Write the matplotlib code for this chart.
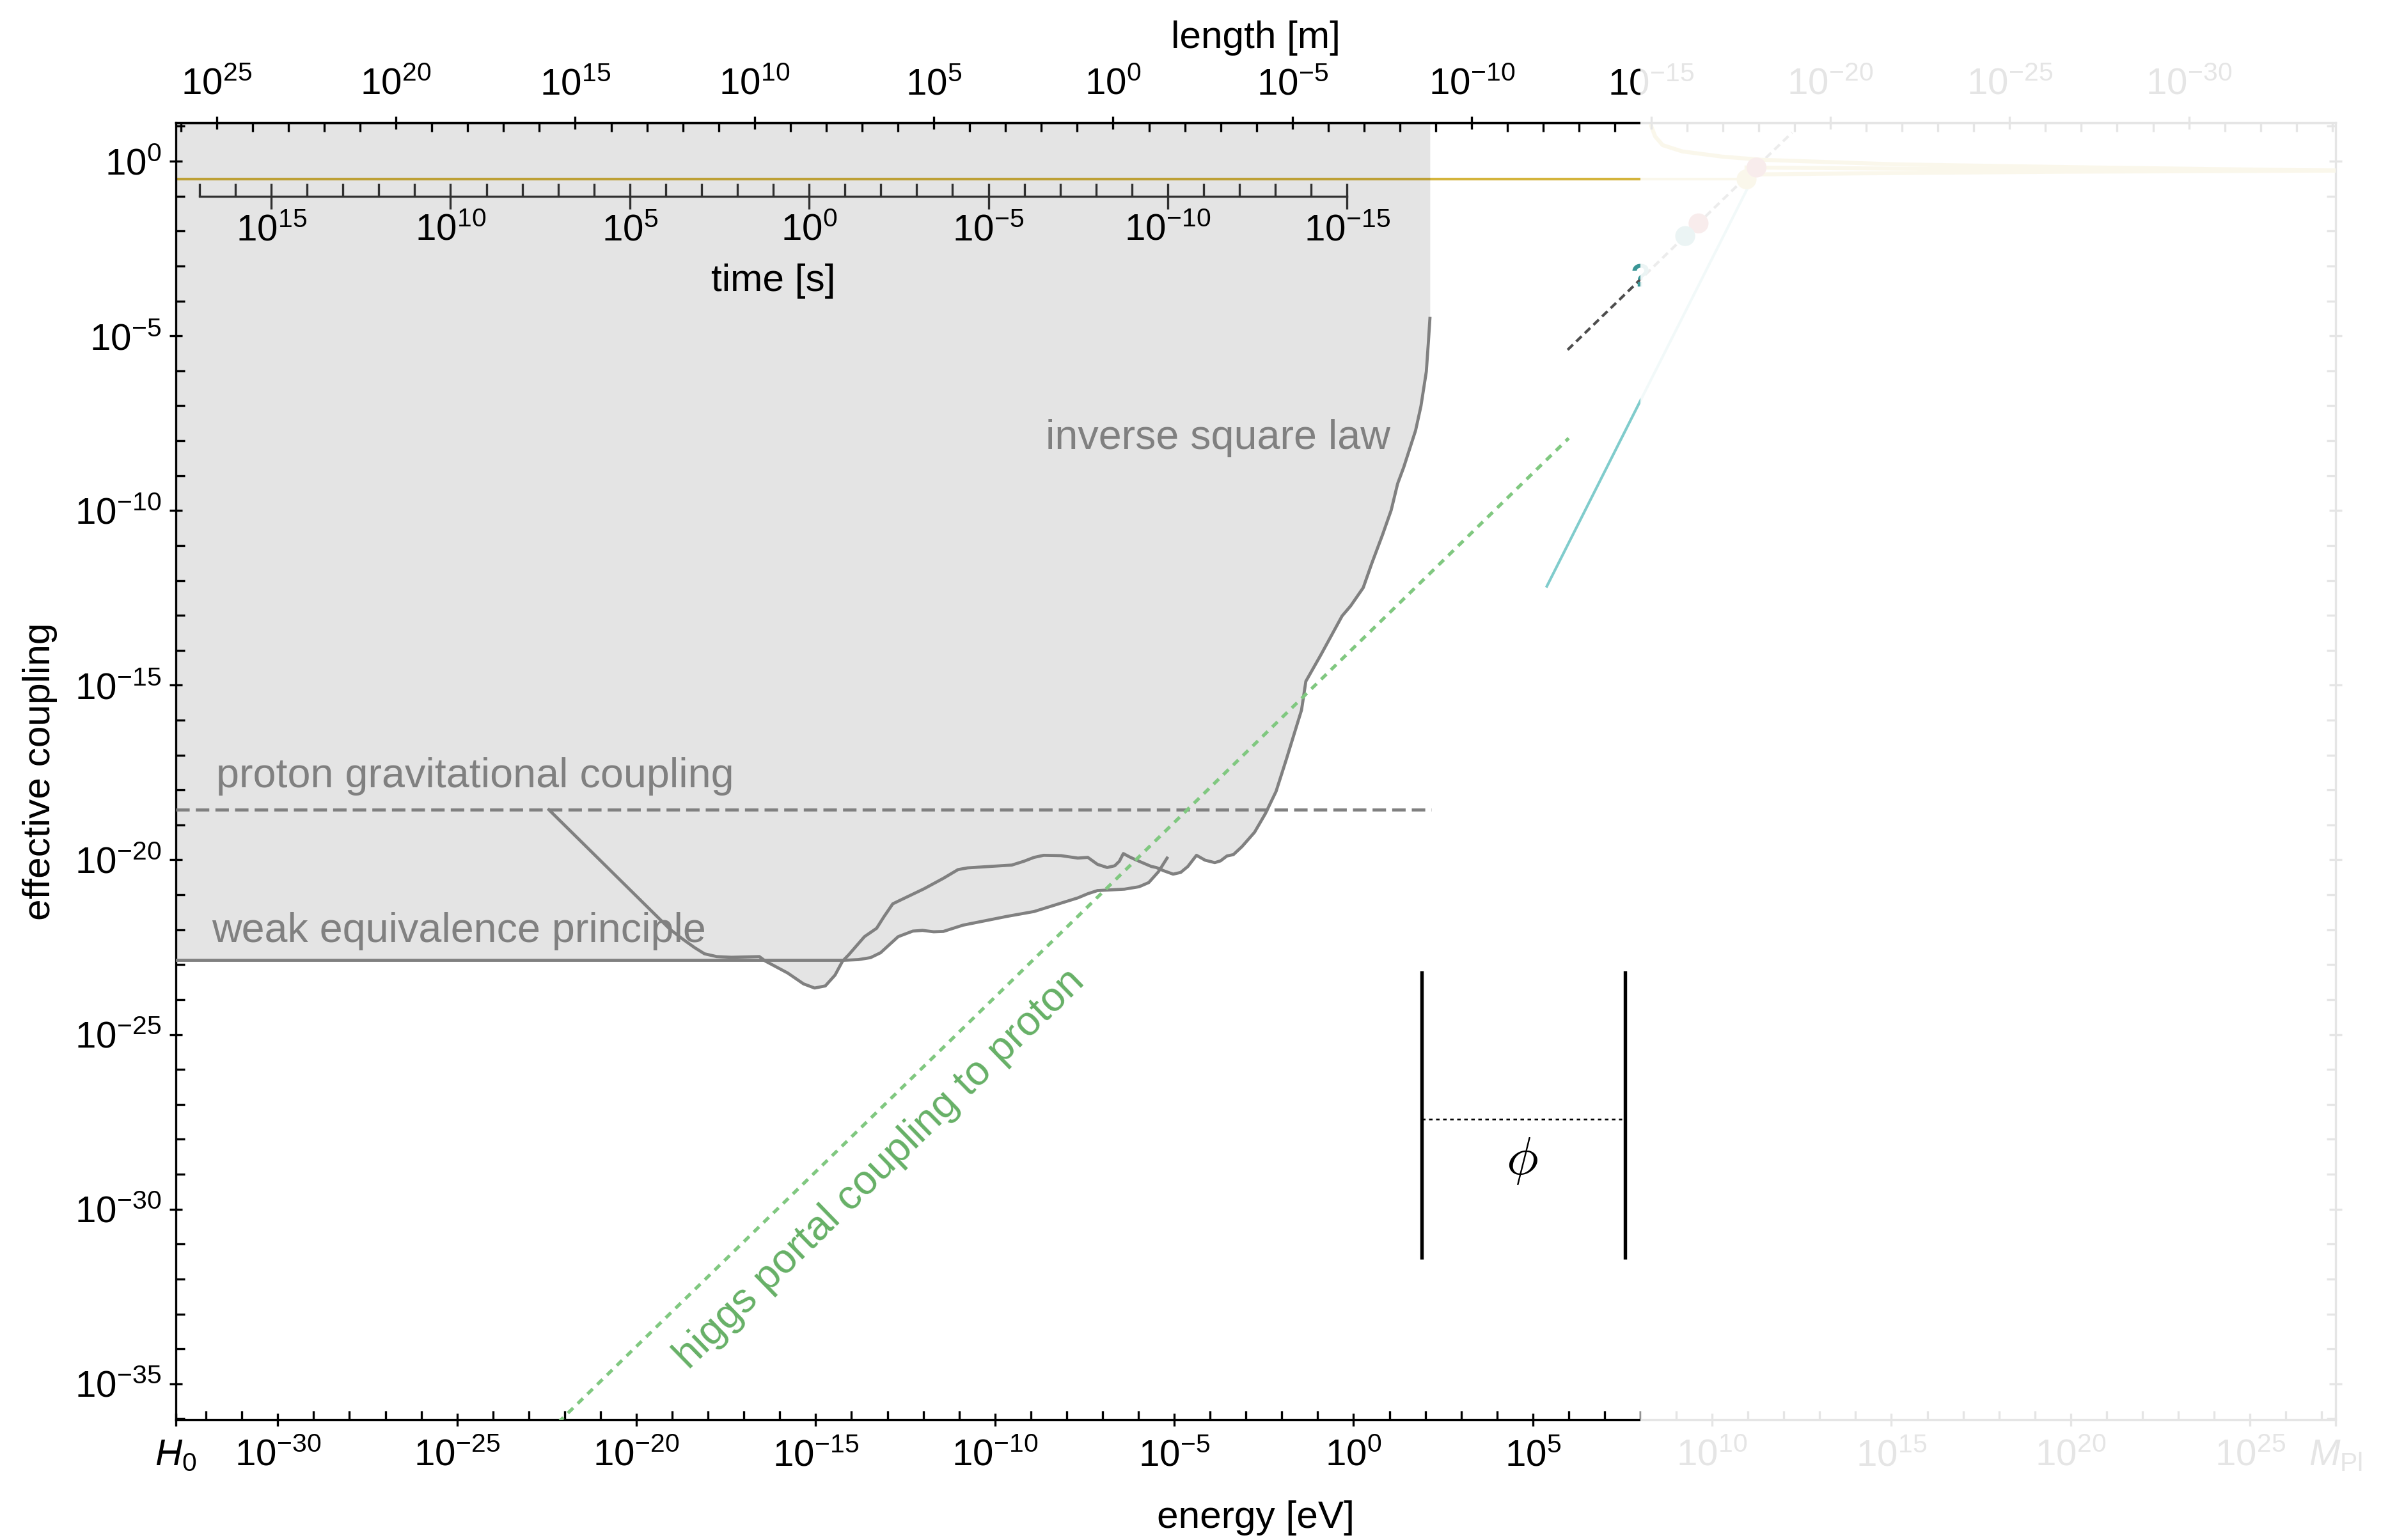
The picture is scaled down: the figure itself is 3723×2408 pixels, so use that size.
import math
import numpy as np
import matplotlib
matplotlib.use("Agg")
import matplotlib.pyplot as plt
from matplotlib import font_manager
from matplotlib.patches import Rectangle
from matplotlib.ticker import FixedLocator, FixedFormatter, NullFormatter
from matplotlib.transforms import blended_transform_factory

# ---------------------------------------------------------------- scales (eV)
H0_EV = 1.44e-33          # Hubble scale
MPL_EV = 2.435e27         # reduced Planck mass
HBARC_EV_M = 1.973e-7     # hbar*c  [eV m]
HBAR_EV_S = 6.582e-16     # hbar    [eV s]
FADE_E = 1e8              # everything above this energy is greyed out

# coupling axis range
G_LOW = 10 ** -36.03
G_HIGH = 10 ** 1.10

# ---------------------------------------------------------------- data
# proton gravitational coupling  m_p / (sqrt(2) M_Pl)
proton_grav_E = [H0_EV, 10 ** 2.17]
proton_grav_g = [10 ** -18.565, 10 ** -18.565]

# electromagnetic coupling e, up to M_Z
em_E = [H0_EV, 9.12e10]
em_g = [0.303, 0.303]

# fifth-force bound: inverse square law / torsion balance (log10 E, log10 g)
isl_logE = [-22.44, -19.06, -18.72, -18.38, -18.10, -17.76, -17.35, -16.57, -16.40,
            -15.78, -15.34, -15.03, -14.73, -14.46, -14.25, -14.08, -13.64, -13.30,
            -13.09, -12.85, -12.67, -11.98, -11.44, -11.03, -10.76, -9.53, -9.19,
            -8.91, -8.64, -8.16, -7.69, -7.41, -7.14, -6.87, -6.66, -6.53, -6.42,
            -6.24, -6.05, -5.64, -5.50, -5.30, -5.03, -4.82, -4.62, -4.38, -4.14,
            -3.87, -3.71, -3.53, -3.35, -3.11, -2.76, -2.46, -2.16, -1.87, -1.45,
            -1.33, -0.91, -0.32, -0.08, 0.27, 0.51, 0.81, 1.05, 1.23, 1.40, 1.73,
            1.88, 2.03, 2.09, 2.13]
isl_logg = [-18.565, -21.99, -22.26, -22.51, -22.69, -22.77, -22.79, -22.77, -22.90,
            -23.24, -23.55, -23.67, -23.61, -23.30, -22.90, -22.72, -22.20, -21.96,
            -21.62, -21.26, -21.17, -20.83, -20.53, -20.28, -20.23, -20.15, -20.04,
            -19.93, -19.87, -19.88, -19.95, -19.93, -20.13, -20.22, -20.17, -20.04,
            -19.82, -19.92, -20.01, -20.19, -20.22, -20.31, -20.41, -20.36, -20.19,
            -19.87, -20.01, -20.08, -20.03, -19.89, -19.85, -19.62, -19.21, -18.68,
            -18.04, -17.11, -15.71, -14.89, -14.13, -13.02, -12.73, -12.21, -11.51,
            -10.69, -9.99, -9.23, -8.76, -7.71, -7.01, -6.02, -5.14, -4.50]

# weak equivalence principle bound (log10 E, log10 g)
wep_logE = [-32.84, -14.22, -13.81, -13.47, -13.19, -12.70, -12.29, -12.02, -11.71,
            -11.44, -10.89, -9.67, -8.91, -7.69, -7.41, -7.14, -6.39, -5.98, -5.71,
            -5.44, -5.20]
wep_logg = [-22.876, -22.876, -22.857, -22.80, -22.66, -22.20, -22.04, -22.02, -22.06,
            -22.05, -21.87, -21.62, -21.48, -21.09, -20.97, -20.88, -20.84, -20.77,
            -20.65, -20.34, -19.95]

# higgs portal coupling to the proton
higgs_E = [1e-23, 1e6]
higgs_g = [10 ** -36.93, 10 ** -7.93]

# Fermi theory: sqrt(G_F) E  and  G_F E^2
fermi_E = [10 ** 5.97, 10 ** 12.23]
fermi_g = [10 ** -5.40, 10 ** 0.82]
fermi2_E = [10 ** 5.39, 10 ** 11.27]
fermi2_g = [10 ** -12.17, 10 ** -0.20]

# running gauge couplings above the electroweak scale (log10 E, log10 g)
g3_logE = [8.27, 8.30, 8.41, 8.62, 9.17, 10.29, 11.40, 15.15, 20.71, 27.39]
g3_logg = [1.30, 1.01, 0.71, 0.46, 0.28, 0.13, 0.04, -0.09, -0.18, -0.27]
g2_logE = [10.96, 15.0, 20.0, 27.39]
g2_logg = [-0.18, -0.21, -0.24, -0.27]
g1_logE = [10.96, 15.0, 20.0, 27.39]
g1_logg = [-0.38, -0.34, -0.30, -0.27]

# Z, top, bottom, tau
particle_E = [9.12e10, 1.73e11, 4.18e9, 1.777e9]
particle_g = [0.303, 0.66, 0.0166, 0.0072]

# tick exponents
x_major_exp = [-30, -25, -20, -15, -10, -5, 0, 5, 10, 15, 20, 25]
x_minor_exp = list(range(-32, 28))
y_major_exp = [0, -5, -10, -15, -20, -25, -30, -35]
y_minor_exp = list(range(-36, 2))
len_major_exp = [25, 20, 15, 10, 5, 0, -5, -10, -15, -20, -25, -30]
len_minor_exp = list(range(26, -35, -1))
time_major_exp = [15, 10, 5, 0, -5, -10, -15]
time_minor_exp = list(range(17, -16, -1))

# ---------------------------------------------------------------- style
GRAY = "#808080"
GOLD = "#d4b43c"
GREEN = "#80c880"
GREEN_TXT = "#66b066"
CYAN = "#80cccc"
DARK = "#4d4d4d"
RED = "#c04848"
TEAL = "#3a9696"

names = {f.name for f in font_manager.fontManager.ttflist}
SANS = "Liberation Sans" if "Liberation Sans" in names else "DejaVu Sans"
NARROW = "Liberation Sans Narrow" if "Liberation Sans Narrow" in names else SANS
plt.rcParams["font.family"] = [SANS, "DejaVu Sans"]
plt.rcParams["mathtext.fontset"] = "custom"
plt.rcParams["mathtext.rm"] = NARROW
plt.rcParams["mathtext.it"] = NARROW + ":italic"
plt.rcParams["mathtext.bf"] = NARROW + ":bold"
plt.rcParams["mathtext.sf"] = NARROW


def pow10(e):
    return rf"$10^{{{e}}}$"


W, H = 3723, 2408
DPI = 300
fig = plt.figure(figsize=(W / DPI, H / DPI), dpi=DPI)
ax_left, ax_right, ax_top_px, ax_bot_px = 275, 3652, 192, 2220
ax = fig.add_axes([ax_left / W, (H - ax_bot_px) / H,
                   (ax_right - ax_left) / W, (ax_bot_px - ax_top_px) / H])
ax.set_xscale("log")
ax.set_yscale("log")
ax.set_xlim(H0_EV, MPL_EV)
ax.set_ylim(G_LOW, G_HIGH)

# ---------------------------------------------------------------- excluded region
grid = np.linspace(wep_logE[0], isl_logE[-1], 4000)
a = np.interp(grid, isl_logE, isl_logg, left=np.inf, right=np.inf)
b = np.interp(grid, wep_logE, wep_logg, left=np.inf, right=np.inf)
lower = np.minimum(a, b)
ax.plot(em_E, em_g, color=GOLD, lw=1.0, zorder=1)
ax.fill_between(10 ** grid, 10 ** lower, G_HIGH, color="black", alpha=0.105,
                lw=0, zorder=2)

# ---------------------------------------------------------------- curves
ax.plot(proton_grav_E, proton_grav_g, color=GRAY, lw=1.15, dashes=(4.4, 2.0), zorder=3)
ax.plot(10 ** np.array(isl_logE), 10 ** np.array(isl_logg), color=GRAY, lw=1.15,
        zorder=3, solid_joinstyle="round")
ax.plot(10 ** np.array(wep_logE), 10 ** np.array(wep_logg), color=GRAY, lw=1.15,
        zorder=3, solid_joinstyle="round")
ax.plot(higgs_E, higgs_g, color=GREEN, lw=1.25, dashes=(2.2, 1.9), zorder=3)
ax.plot(fermi_E, fermi_g, color=DARK, lw=1.0, dashes=(2.8, 1.7), zorder=3)
ax.plot(fermi2_E, fermi2_g, color=CYAN, lw=1.0, zorder=3)
for le, lg in ((g3_logE, g3_logg), (g2_logE, g2_logg), (g1_logE, g1_logg)):
    ax.plot(10 ** np.array(le), 10 ** np.array(lg), color=GOLD, lw=1.5, zorder=3)
ax.scatter(particle_E, particle_g, s=7.5 ** 2, c=[GOLD, RED, RED, TEAL],
           edgecolors="none", zorder=4)
ax.text(1e8, 10 ** -3.35, "?", color=TEAL, fontsize=12, fontweight="bold",
        ha="center", va="center", zorder=5)

# ---------------------------------------------------------------- labels in the plot
LBL = 15.5
ax.text(10 ** -31.71, 10 ** -17.93, "proton gravitational coupling", color=GRAY,
        fontsize=LBL, ha="left", va="baseline", zorder=4)
ax.text(10 ** -31.85, 10 ** -22.35, "weak equivalence principle", color=GRAY,
        fontsize=LBL, ha="left", va="baseline", zorder=4)
ax.text(10 ** 1.03, 10 ** -8.24, "inverse square law", color=GRAY,
        fontsize=LBL, ha="right", va="baseline", zorder=4)
p0 = ax.transData.transform((higgs_E[0], higgs_g[0]))
p1 = ax.transData.transform((higgs_E[1], higgs_g[1]))
angle = math.degrees(math.atan2(p1[1] - p0[1], p1[0] - p0[0]))
ax.text(10 ** -13.21, 10 ** -28.85, "higgs portal coupling to proton", color=GREEN_TXT,
        fontsize=LBL, ha="center", va="center", rotation=angle,
        rotation_mode="anchor", zorder=4)

# exchange diagram: two sources and the scalar line between them
BAR_X = (0.5768, 0.6710)
BAR_Y = (0.1238, 0.3462)
PROP_Y = 0.2318
for bx in BAR_X:
    ax.plot([bx, bx], BAR_Y, transform=ax.transAxes, color="black", lw=1.3,
            solid_capstyle="butt", zorder=5)
ax.plot([BAR_X[0], BAR_X[1] - 0.0015], [PROP_Y, PROP_Y], transform=ax.transAxes,
        color="black", lw=0.6, dashes=(2.2, 2.2), zorder=5)
ax.text(0.6233, 0.1997, r"$\phi$", transform=ax.transAxes, fontsize=20,
        math_fontfamily="cm", ha="center", va="center", zorder=5)

# ---------------------------------------------------------------- main axes ticks
SPINE_W = 0.8
for s in ax.spines.values():
    s.set_linewidth(SPINE_W)
x_major = [H0_EV] + [10.0 ** e for e in x_major_exp] + [MPL_EV]
x_labels = [r"$H_0$"] + [pow10(e) for e in x_major_exp] + [r"$M_{\mathrm{Pl}}$"]
ax.xaxis.set_major_locator(FixedLocator(x_major))
ax.xaxis.set_major_formatter(FixedFormatter(x_labels))
ax.xaxis.set_minor_locator(FixedLocator([10.0 ** e for e in x_minor_exp]))
ax.xaxis.set_minor_formatter(NullFormatter())
ax.yaxis.set_major_locator(FixedLocator([10.0 ** e for e in y_major_exp]))
ax.yaxis.set_major_formatter(FixedFormatter([pow10(e) for e in y_major_exp]))
ax.yaxis.set_minor_locator(FixedLocator([10.0 ** e for e in y_minor_exp]))
ax.yaxis.set_minor_formatter(NullFormatter())
ax.tick_params(which="both", top=False, right=True, labelright=False, width=SPINE_W)
ax.tick_params(which="major", direction="inout", length=5.0, labelsize=14)
ax.tick_params(which="minor", direction="in", length=3.4)
ax.tick_params(axis="x", which="major", pad=4.5)
ax.tick_params(axis="y", which="major", pad=3.0)

ax.set_xlabel("energy [eV]", fontsize=14.5)
ax.xaxis.set_label_coords(0.5, (H - 2346) / H,
                          transform=blended_transform_factory(ax.transAxes, fig.transFigure))
ax.set_ylabel("effective coupling", fontsize=14.5)
ax.yaxis.set_label_coords(90 / W, 0.5,
                          transform=blended_transform_factory(fig.transFigure, ax.transAxes))

# ---------------------------------------------------------------- length axis (top)
ax_len = ax.twiny()
ax_len.set_xscale("log")
ax_len.set_xlim(HBARC_EV_M / H0_EV, HBARC_EV_M / MPL_EV)
for side in ("left", "right", "bottom"):
    ax_len.spines[side].set_visible(False)
ax_len.spines["top"].set_linewidth(SPINE_W)
ax_len.xaxis.set_major_locator(FixedLocator([10.0 ** e for e in len_major_exp]))
ax_len.xaxis.set_major_formatter(FixedFormatter([pow10(e) for e in len_major_exp]))
ax_len.xaxis.set_minor_locator(FixedLocator([10.0 ** e for e in len_minor_exp]))
ax_len.xaxis.set_minor_formatter(NullFormatter())
ax_len.tick_params(which="both", width=SPINE_W)
ax_len.tick_params(which="major", direction="inout", length=5.0, labelsize=14, pad=5.3)
ax_len.tick_params(which="minor", direction="in", length=3.4)
ax_len.set_xlabel("length [m]", fontsize=14.5)
ax_len.xaxis.set_label_coords(0.5, (H - 75) / H,
                              transform=blended_transform_factory(ax_len.transAxes,
                                                                  fig.transFigure))

# ---------------------------------------------------------------- time axis (inset)
TIME_Y = 307
ax_t = fig.add_axes([ax_left / W, (H - TIME_Y) / H, (ax_right - ax_left) / W, 0.0005],
                    facecolor="none")
ax_t.set_xscale("log")
ax_t.set_xlim(HBAR_EV_S / H0_EV, HBAR_EV_S / MPL_EV)
ax_t.set_yticks([])
for side in ("left", "right", "top"):
    ax_t.spines[side].set_visible(False)
TCOL = "#303030"
ax_t.spines["bottom"].set_bounds(10.0 ** time_minor_exp[0], 10.0 ** time_minor_exp[-1])
ax_t.spines["bottom"].set_color(TCOL)
ax_t.spines["bottom"].set_linewidth(SPINE_W)
ax_t.xaxis.set_major_locator(FixedLocator([10.0 ** e for e in time_major_exp]))
ax_t.xaxis.set_major_formatter(FixedFormatter([pow10(e) for e in time_major_exp]))
ax_t.xaxis.set_minor_locator(FixedLocator([10.0 ** e for e in time_minor_exp]))
ax_t.xaxis.set_minor_formatter(NullFormatter())
ax_t.tick_params(which="both", width=SPINE_W, color=TCOL)
ax_t.tick_params(which="major", direction="inout", length=9.6, labelsize=14, pad=1.5)
ax_t.tick_params(which="minor", direction="in", length=4.8)
ax_t.set_xlabel("time [s]", fontsize=14.5)
ax_t.xaxis.set_label_coords(10.0, (H - 412) / H,
                            transform=blended_transform_factory(ax_t.transData,
                                                                fig.transFigure))

# ---------------------------------------------------------------- grey-out above 1e8 eV
fade_x = fig.transFigure.inverted().transform(ax.transData.transform((FADE_E, 1.0)))[0]
fig.add_artist(Rectangle((fade_x, 0), 1 - fade_x, 1, transform=fig.transFigure,
                         facecolor="white", edgecolor="none", alpha=0.9, zorder=50))

fig.savefig("out.png", dpi=DPI)
